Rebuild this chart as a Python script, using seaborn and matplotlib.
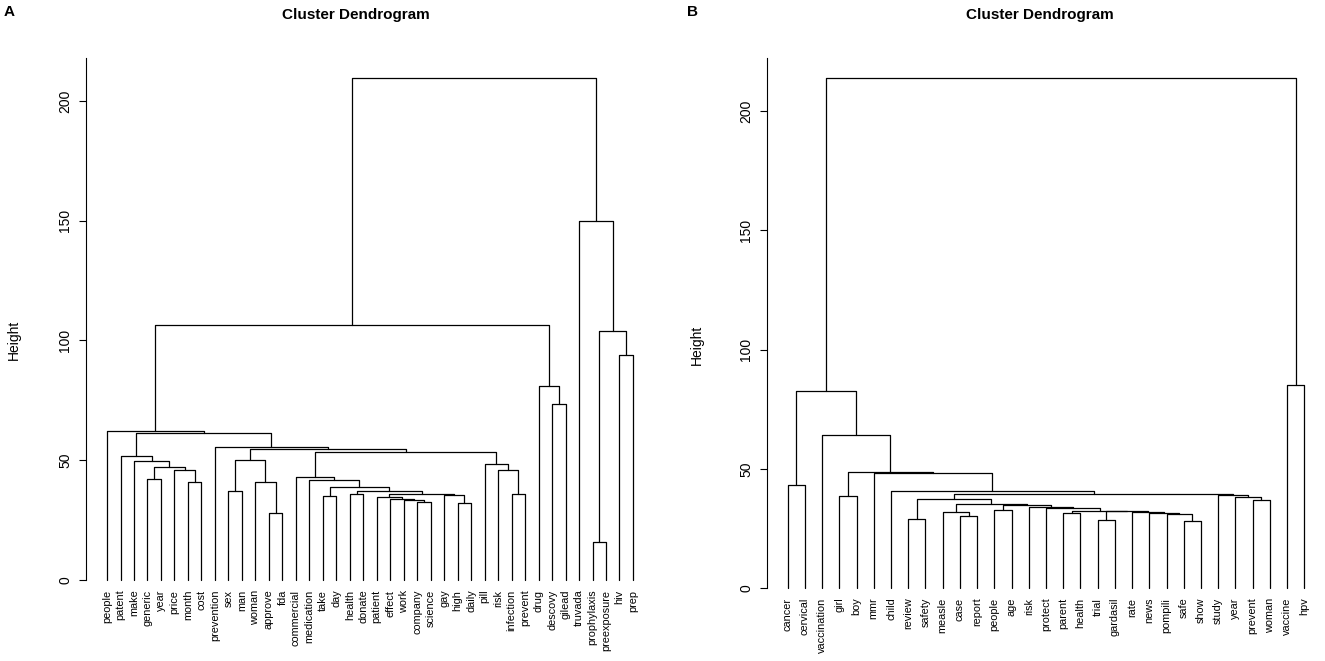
import numpy as np
import pandas as pd
import matplotlib
matplotlib.use("Agg")
import matplotlib.pyplot as plt
import seaborn as sns

# ---------------- Panel A data ----------------
A_labels = ["people", "patent", "make", "generic", "year", "price", "month", "cost",
            "prevention", "sex", "man", "woman", "approve", "fda", "commercial",
            "medication", "take", "day", "health", "donate", "patient", "effect",
            "work", "company", "science", "gay", "high", "daily", "pill", "risk",
            "infection", "prevent", "drug", "descovy", "gilead", "truvada",
            "prophylaxis", "preexposure", "hiv", "prep"]
A_node = ["n1", "n2", "n3", "n4", "n5", "n6", "n7", "n8", "n9", "n10",
          "n11", "n12", "n13", "n14", "n15", "n16", "n17", "n18", "n19", "n20",
          "n21", "n22", "n23", "n24", "n25", "n26", "n27", "n28", "n29", "n30",
          "n31", "n32", "n33", "n34", "n35", "n36", "n37", "n38", "n39"]
A_left = ["prophylaxis", "approve", "high", "company", "work", "effect", "patient", "take", "gay", "infection",
          "n7", "health", "sex", "n12", "n8", "woman", "month", "medication", "generic", "commercial",
          "price", "risk", "n19", "pill", "make", "n13", "patent", "n20", "n26", "prevention",
          "n27", "people", "descovy", "drug", "hiv", "n1", "n32", "truvada", "n37"]
A_right = ["preexposure", "fda", "daily", "science", "n4", "n5", "n6", "day", "n3", "prevent",
           "n9", "donate", "man", "n11", "n14", "n2", "cost", "n15", "year", "n18",
           "n17", "n10", "n21", "n22", "n23", "n16", "n25", "n24", "n28", "n29",
           "n30", "n31", "gilead", "n33", "prep", "n35", "n34", "n36", "n38"]
A_height = [16.0, 27.8, 32.0, 32.5, 33.3, 33.7, 34.5, 35.1, 35.5, 35.8,
            35.9, 36.0, 37.2, 37.3, 39.0, 41.0, 41.0, 41.75, 42.3, 42.9,
            45.9, 45.9, 47.3, 48.4, 49.8, 50.0, 51.9, 53.3, 54.7, 55.3,
            61.5, 62.3, 73.5, 81.0, 94.0, 104.0, 106.3, 150.0, 209.5]

# ---------------- Panel B data ----------------
B_labels = ["cancer", "cervical", "vaccination", "girl", "boy", "mmr", "child",
            "review", "safety", "measle", "case", "report", "people", "age", "risk",
            "protect", "parent", "health", "trial", "gardasil", "rate", "news",
            "pompili", "safe", "show", "study", "year", "prevent", "woman",
            "vaccine", "hpv"]
B_node = ["m1", "m2", "m3", "m4", "m5", "m6", "m7", "m8", "m9", "m10",
          "m11", "m12", "m13", "m14", "m15", "m16", "m17", "m18", "m19", "m20",
          "m21", "m22", "m23", "m24", "m25", "m26", "m27", "m28", "m29", "m30"]
B_left = ["safe", "trial", "review", "case", "pompili", "news", "parent", "measle", "rate", "m2",
          "m7", "people", "protect", "risk", "m12", "m8", "prevent", "m3", "year", "girl",
          "study", "m18", "child", "cancer", "mmr", "m20", "vaccination", "m24", "vaccine", "m28"]
B_right = ["show", "gardasil", "safety", "report", "m1", "m5", "health", "m4", "m6", "m9",
           "m10", "age", "m11", "m13", "m14", "m15", "woman", "m16", "m17", "boy",
           "m19", "m21", "m22", "cervical", "m23", "m25", "m26", "m27", "hpv", "m29"]
B_height = [28.2, 28.4, 28.9, 30.2, 30.9, 31.3, 31.4, 31.7, 31.75, 32.1,
            32.4, 32.6, 33.4, 33.8, 34.6, 35.2, 36.9, 37.4, 38.3, 38.7,
            39.0, 39.4, 40.5, 43.2, 48.1, 48.8, 64.1, 82.6, 85.0, 213.8]

Y_TICKS = [0, 50, 100, 150, 200]


def dendro_segments(labels, node, left, right, height):
    pos = {lab: float(i + 1) for i, lab in enumerate(labels)}
    hgt = {lab: 0.0 for lab in labels}
    hgt.update(dict(zip(node, height)))
    kids = dict(zip(node, zip(left, right)))

    def xpos(k):
        if k not in pos:
            l, r = kids[k]
            pos[k] = (xpos(l) + xpos(r)) / 2.0
        return pos[k]

    rows = []
    for n, l, r, h in zip(node, left, right, height):
        xl, xr = xpos(l), xpos(r)
        for x, y in [(xl, hgt[l]), (xl, h), (xr, h), (xr, hgt[r])]:
            rows.append({"node": n, "x": x, "y": y})
    return pd.DataFrame(rows)


sns.set_style("white")
plt.rcParams["font.family"] = ["Liberation Sans", "DejaVu Sans"]
plt.rcParams["text.color"] = "black"
plt.rcParams["axes.labelcolor"] = "black"
plt.rcParams["xtick.color"] = "black"
plt.rcParams["ytick.color"] = "black"

W, H = 1325, 661
fig = plt.figure(figsize=(W / 100, H / 100), dpi=100)


def draw_panel(rect, labels, node, left, right, height, ylim):
    ax = fig.add_axes(rect)
    df = dendro_segments(labels, node, left, right, height)
    sns.lineplot(data=df, x="x", y="y", units="node", estimator=None, sort=False,
                 color="black", linewidth=0.9, ax=ax, legend=False)
    n = len(labels)
    pad = 0.04 * (n - 1)
    ax.set_xlim(1 - pad, n + pad)
    ax.set_ylim(*ylim)
    ax.set_xticks([])
    ax.set_xlabel("")
    ax.set_ylabel("")
    ax.set_yticks(Y_TICKS)
    ax.set_yticklabels([str(t) for t in Y_TICKS])
    ax.tick_params(axis="y", left=True, length=5, width=0.8, pad=5,
                   labelsize=10, colors="black", labelcolor="black")
    for t in ax.get_yticklabels():
        t.set_rotation(90)
        t.set_va("center")
        t.set_color("black")
    for s in ["top", "right", "bottom"]:
        ax.spines[s].set_visible(False)
    ax.spines["left"].set_color("black")
    ax.spines["left"].set_linewidth(0.8)
    ax.spines["left"].set_bounds(0, ylim[1])
    for i, lab in enumerate(labels):
        ax.annotate(lab, xy=(i + 1, 0), xytext=(0, -7), textcoords="offset points",
                    rotation=90, ha="center", va="top", fontsize=7.8, color="black",
                    annotation_clip=False)
    ax.patch.set_alpha(0)
    return ax


axA = draw_panel([86 / W, 1 - 600 / H, 568 / W, 542 / H],
                 A_labels, A_node, A_left, A_right, A_height, (-8.38, 217.88))
axB = draw_panel([767 / W, 1 - 608.4 / H, 558 / W, 550.7 / H],
                 B_labels, B_node, B_left, B_right, B_height, (-8.55, 222.35))

fig.text(356 / W, 1 - 15 / H, "Cluster Dendrogram", ha="center", va="center",
         fontsize=11, fontweight="bold", color="black")
fig.text(1040 / W, 1 - 15 / H, "Cluster Dendrogram", ha="center", va="center",
         fontsize=11, fontweight="bold", color="black")
fig.text(14 / W, 1 - 340 / H, "Height", rotation=90, ha="center", va="center",
         fontsize=10, color="black")
fig.text(697 / W, 1 - 345 / H, "Height", rotation=90, ha="center", va="center",
         fontsize=10, color="black")
fig.text(4 / W, 1 - 12 / H, "A", ha="left", va="center", fontsize=11,
         fontweight="bold", color="black")
fig.text(687 / W, 1 - 12 / H, "B", ha="left", va="center", fontsize=11,
         fontweight="bold", color="black")

fig.savefig("out.png", dpi=100)
